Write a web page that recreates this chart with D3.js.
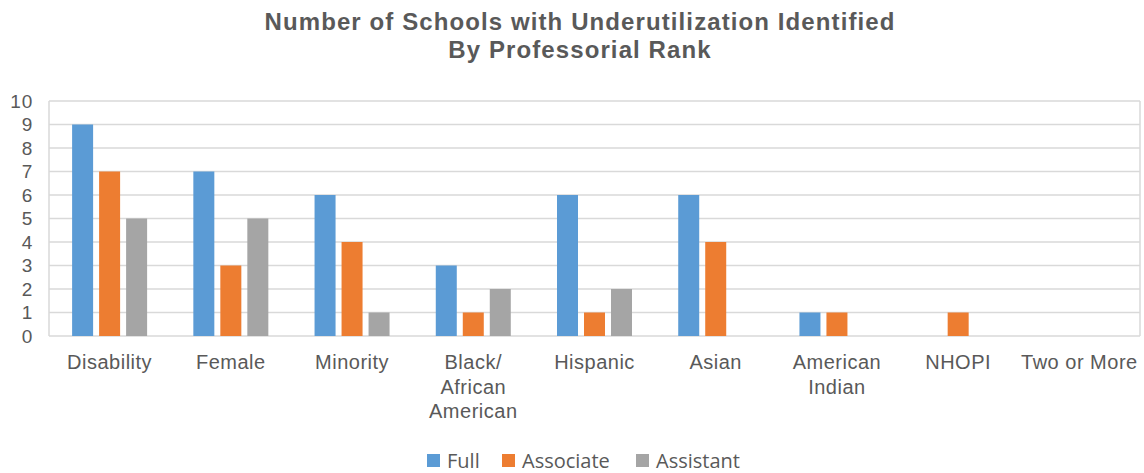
<!DOCTYPE html>
<html>
<head>
<meta charset="utf-8">
<script src="https://cdn.jsdelivr.net/npm/d3@7"></script>
<style>
body { margin: 0; background: #fff; }
text { font-family: "Liberation Sans", Arial, sans-serif; fill: #595959; }
</style>
</head>
<body>
<script>
"use strict"

const categories = ['Disability', 'Female', 'Minority', 'Black/\nAfrican\nAmerican', 'Hispanic', 'Asian', 'American\nIndian', 'NHOPI', 'Two or More']
const series = ['Full', 'Associate', 'Assistant']
const full = [9, 7, 6, 3, 6, 6, 1, 0, 0]
const associate = [7, 3, 4, 1, 1, 4, 1, 1, 0]
const assistant = [5, 5, 1, 2, 2, 0, 0, 0, 0]
const colors = ['#5B9BD5', '#ED7D31', '#A5A5A5']
const yTicks = [0, 1, 2, 3, 4, 5, 6, 7, 8, 9, 10]

const values = [full, associate, assistant]
const w = 1144, h = 473
const plotL = 49, plotR = 1140, plotT = 101, plotB = 336

const svg = d3.select('body').append('svg')
   .attr('width', w)
   .attr('height', h)

// title
const title = svg.append('text')
   .attr('text-anchor', 'middle')
   .style('font-weight', 'bold')
   .style('font-size', '24px')
   .style('letter-spacing', '1.1px')
title.append('tspan').attr('x', 580).attr('y', 30).text('Number of Schools with Underutilization Identified')
title.append('tspan').attr('x', 580).attr('y', 58).text('By Professorial Rank')

const x = d3.scaleBand(d3.range(categories.length), [plotL, plotR])
const y = d3.scaleLinear([0, 10], [plotB, plotT])

// grid
svg.append('g')
   .selectAll('line')
   .data(yTicks)
   .join('line')
      .attr('x1', plotL).attr('x2', plotR)
      .attr('y1', d => y(d)).attr('y2', d => y(d))
      .attr('stroke', '#D9D9D9')
      .attr('stroke-width', 1.5)

svg.append('line')
   .attr('x1', plotL).attr('x2', plotL)
   .attr('y1', plotT).attr('y2', plotB)
   .attr('stroke', '#D9D9D9').attr('stroke-width', 1.5)
svg.append('line')
   .attr('x1', plotR).attr('x2', plotR)
   .attr('y1', plotT).attr('y2', plotB)
   .attr('stroke', '#D9D9D9').attr('stroke-width', 1.5)

// y axis
const yAxis = svg.append('g')
   .attr('transform', `translate(${plotL - 16}, 0)`)
   .call(d3.axisLeft(y).tickValues(yTicks).tickSize(0).tickPadding(0))
yAxis.select('.domain').remove()
yAxis.selectAll('text')
   .style('font-size', '19px')
   .style('letter-spacing', '0.8px')
   .attr('fill', '#595959')
   .style('font-family', '"Liberation Sans", Arial, sans-serif')

// bars
const barW = 21, gap = 6
const groupW = barW * 3 + gap * 2
series.forEach((s, si) => {
   svg.append('g')
      .selectAll('rect')
      .data(values[si])
      .join('rect')
         .attr('x', (d, i) => x(i) + x.bandwidth() / 2 - groupW / 2 + si * (barW + gap))
         .attr('y', d => y(d))
         .attr('width', barW)
         .attr('height', d => y(0) - y(d))
         .attr('fill', colors[si])
})

// x labels
const xl = svg.append('g')
   .selectAll('text')
   .data(categories)
   .join('text')
      .attr('text-anchor', 'middle')
      .style('font-size', '20px')
      .style('letter-spacing', '0.5px')
xl.each(function (d, i) {
   const t = d3.select(this)
   d.split('\n').forEach((line, li) => {
      t.append('tspan')
         .attr('x', x(i) + x.bandwidth() / 2)
         .attr('y', 369 + li * 24.5)
         .text(line)
   })
})

// legend
const legendX = [427, 502, 636]
const leg = svg.append('g')
series.forEach((s, si) => {
   leg.append('rect')
      .attr('x', legendX[si]).attr('y', 454)
      .attr('width', 13).attr('height', 13)
      .attr('fill', colors[si])
   leg.append('text')
      .attr('x', legendX[si] + 20).attr('y', 468)
      .style('font-family', '"Open Sans", sans-serif')
      .style('font-size', '20px')
      .text(s)
})
</script>
</body>
</html>
